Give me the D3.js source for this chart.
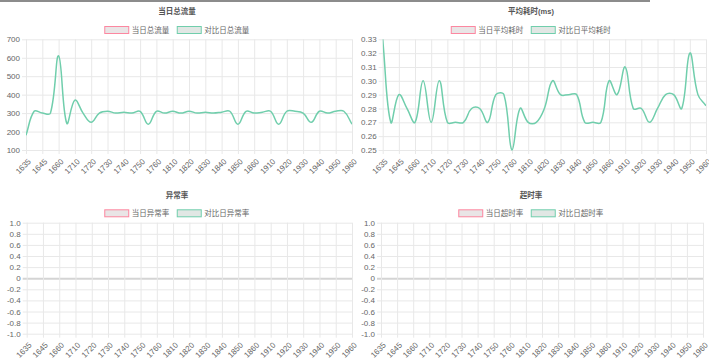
<!DOCTYPE html>
<html><head><meta charset="utf-8">
<script src="https://cdn.jsdelivr.net/npm/d3@7"></script>
<style>
body{margin:0;background:#fff;}
svg{display:block;font-family:"Liberation Sans",Arial,"Noto Sans CJK SC",sans-serif;}
</style></head><body>
<svg id="c" width="709" height="359"></svg>
<script>
// ---- data ----
const tickLabels = ["1635","1645","1660","1710","1720","1730","1740","1750","1760","1810","1820","1830","1840","1850","1860","1910","1920","1930","1940","1950","1960"];
const pointCount = 41; // one point every half label step
const trafficToday = [];
const trafficCompare = [180,310,300,300,610,245,370,300,250,300,310,300,305,300,310,240,310,300,310,300,310,300,305,300,305,310,240,310,300,305,310,240,310,310,300,250,310,300,310,310,240];
const avgToday = [];
const avgCompare = [0.33,0.27,0.29,0.28,0.27,0.30,0.27,0.30,0.27,0.27,0.27,0.28,0.28,0.27,0.29,0.29,0.25,0.28,0.27,0.27,0.28,0.30,0.29,0.29,0.29,0.27,0.27,0.27,0.30,0.29,0.31,0.28,0.28,0.27,0.28,0.29,0.29,0.28,0.32,0.29,0.282];
const errToday = [];
const errCompare = [];
const timeoutToday = [];
const timeoutCompare = [];
const trafficTicks = [100,200,300,400,500,600,700];
const avgTicks = [0.25,0.26,0.27,0.28,0.29,0.30,0.31,0.32,0.33];
const rateTicks = [-1,-0.8,-0.6,-0.4,-0.2,0,0.2,0.4,0.6,0.8,1];

const panels = [
  {title:"当日总流量", names:["当日总流量","对比日总流量"], today:trafficToday, compare:trafficCompare,
   ticks:trafficTicks, fmt:d=>String(d), cx:177, ty:11, ly:30, x0:26, x1:352, y0:39.3, y1:150},
  {title:"平均耗时(ms)", names:["当日平均耗时","对比日平均耗时"], today:avgToday, compare:avgCompare,
   ticks:avgTicks, fmt:d=>d.toFixed(2), cx:531, ty:11, ly:30, x0:382.7, x1:706, y0:39.3, y1:150},
  {title:"异常率", names:["当日异常率","对比日异常率"], today:errToday, compare:errCompare,
   ticks:rateTicks, fmt:d=>d===0?"0":d.toFixed(1), cx:177, ty:195, ly:213.3, x0:26.7, x1:352, y0:222.7, y1:333.7, zero:true},
  {title:"超时率", names:["当日超时率","对比日超时率"], today:timeoutToday, compare:timeoutCompare,
   ticks:rateTicks, fmt:d=>d===0?"0":d.toFixed(1), cx:531, ty:195, ly:213.3, x0:381, x1:703, y0:222.7, y1:333.7, zero:true}
];

// Chart.js-style spline (tension 0.4, distance-weighted, control points capped to area)
function makeSpline(top, bottom){
  return function(context){
    let pts = [];
    return {
      areaStart(){}, areaEnd(){},
      lineStart(){ pts = []; },
      point(x,y){ pts.push([+x,+y]); },
      lineEnd(){
        const n = pts.length, t = 0.4;
        if(!n) return;
        const cap = v => Math.max(top, Math.min(bottom, v));
        const cps = pts.map((p,i)=>{
          const pr = pts[i-1]||p, nx = pts[i+1]||p;
          const d01 = Math.hypot(p[0]-pr[0], p[1]-pr[1]);
          const d12 = Math.hypot(nx[0]-p[0], nx[1]-p[1]);
          let s01 = d01/(d01+d12), s12 = d12/(d01+d12);
          if(!isFinite(s01)) s01 = 0; if(!isFinite(s12)) s12 = 0;
          const fa = t*s01, fb = t*s12;
          return {pv:[p[0]-fa*(nx[0]-pr[0]), cap(p[1]-fa*(nx[1]-pr[1]))],
                  nv:[p[0]+fb*(nx[0]-pr[0]), cap(p[1]+fb*(nx[1]-pr[1]))]};
        });
        context.moveTo(pts[0][0], pts[0][1]);
        for(let i=1;i<n;i++)
          context.bezierCurveTo(cps[i-1].nv[0], cps[i-1].nv[1], cps[i].pv[0], cps[i].pv[1], pts[i][0], pts[i][1]);
      }
    };
  };
}

const svg = d3.select("#c");
svg.append("rect").attr("width",709).attr("height",359).attr("fill","#fff");
svg.append("line").attr("x1",0).attr("x2",650).attr("y1",1).attr("y2",1).attr("stroke","#666").attr("stroke-width",1.5);

const FS = 7.5, TFS = 8;
const gridColor = "#e8e8e8";
const lineColor = "rgb(112,206,172)";
const todayColor = "rgba(255,99,132,0.75)";

panels.forEach((p,pi)=>{
  const g = svg.append("g");
  const w = p.x1 - p.x0, h = p.y1 - p.y0;
  const x = d3.scaleLinear().domain([0, pointCount-1]).range([p.x0, p.x1]);
  const y = d3.scaleLinear().domain(d3.extent(p.ticks)).range([p.y1, p.y0]);

  // y axis + horizontal grid
  const ya = g.append("g").attr("transform",`translate(${p.x0-4},0)`)
    .call(d3.axisLeft(y).tickValues(p.ticks).tickFormat(p.fmt).tickSize(-(w+4)).tickPadding(2));
  ya.select(".domain").remove();
  ya.selectAll("line").attr("stroke",d=> (p.zero && d===0) ? "#d4d4d4" : gridColor)
    .attr("stroke-width",d=> (p.zero && d===0) ? 2 : 1);
  ya.selectAll("text").attr("fill","#666").style("font-size",TFS+"px");

  // x axis + vertical grid
  const xt = d3.range(0, pointCount, 2);
  const xa = g.append("g").attr("transform",`translate(0,${p.y1+4})`)
    .call(d3.axisBottom(x).tickValues(xt).tickFormat((d,i)=>tickLabels[i]).tickSize(-(h+4)));
  xa.select(".domain").remove();
  xa.selectAll("line").attr("stroke",gridColor);
  xa.selectAll("text").attr("fill","#666").style("font-size",TFS+"px")
    .attr("y",0).attr("dy","0.35em").style("text-anchor","end")
    .attr("transform","translate(3,6) rotate(-45)");

  // clip
  const cid = "clip"+pi;
  svg.append("clipPath").attr("id",cid).append("rect")
    .attr("x",p.x0).attr("y",p.y0-1).attr("width",w).attr("height",h+2);

  const line = d3.line().x((d,i)=>x(i)).y(d=>y(d)).curve(makeSpline(p.y0, p.y1));
  if (p.today.length) g.append("path").datum(p.today).attr("d",line).attr("fill","none")
      .attr("stroke",todayColor).attr("stroke-width",1.5).attr("clip-path",`url(#${cid})`);
  if (p.compare.length) g.append("path").datum(p.compare).attr("d",line).attr("fill","none")
      .attr("stroke",lineColor).attr("stroke-width",1.5).attr("clip-path",`url(#${cid})`);

  // title
  g.append("text").attr("x",p.cx).attr("y",p.ty).attr("dy","0.35em").attr("text-anchor","middle")
    .attr("fill","#555").style("font-size",FS+"px").style("font-weight","bold").text(p.title);

  // legend
  const lg = g.append("g");
  const items = p.names.map((n,i)=>{
    const it = lg.append("g");
    it.append("rect").attr("width",24).attr("height",7)
      .attr("fill", i===0 ? "#e9e5e6" : "#e1e7e4")
      .attr("stroke", i===0 ? todayColor : lineColor).attr("stroke-width",1);
    const t = it.append("text").attr("x",27).attr("y",3.5).attr("dy","0.35em")
      .attr("fill","#666").style("font-size",FS+"px").text(n);
    return {it, w: 27 + t.node().getComputedTextLength()};
  });
  const gap = 8;
  const total = d3.sum(items, d=>d.w) + gap*(items.length-1);
  let cur = p.cx - total/2;
  items.forEach(d=>{ d.it.attr("transform",`translate(${cur},${p.ly-3.5})`); cur += d.w + gap; });
});
</script>
</body></html>
